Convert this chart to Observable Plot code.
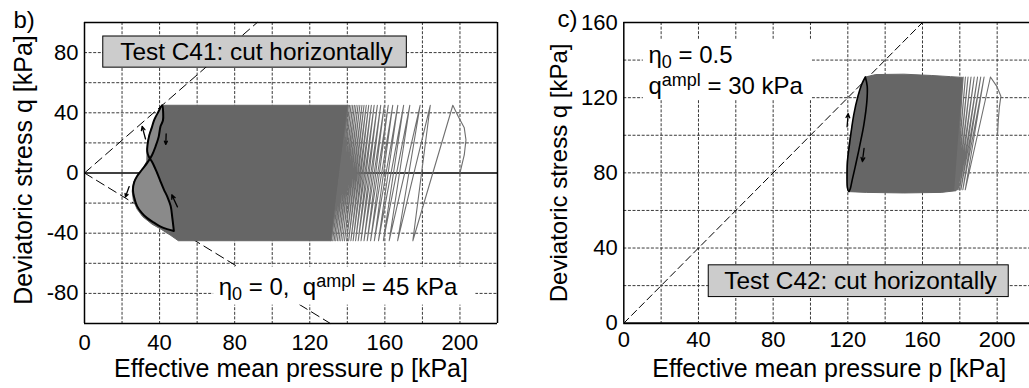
<!DOCTYPE html>
<html><head><meta charset="utf-8">
<script src="https://cdn.jsdelivr.net/npm/d3@7"></script>
<script src="https://cdn.jsdelivr.net/npm/@observablehq/plot@0.6"></script>
<style>
html,body{margin:0;padding:0;background:#fff;overflow:hidden;}
#wrap{position:relative;width:1029px;height:388px;overflow:hidden;background:#fff;}
#wrap svg{position:absolute;top:0;}
svg text{white-space:pre;}
</style></head><body><div id="wrap"></div>
<script>
// ---------- data (p, q in kPa) ----------
const xTicks = [0, 40, 80, 120, 160, 200];
const yTicksB = [-80, -40, 0, 40, 80];
const yTicksC = [0, 40, 80, 120, 160];
const gridPB = [20, 40, 60, 80, 100, 120, 140, 160, 180, 200];
const gridQB = [-80, -60, -40, -20, 20, 40, 60, 80];
const gridPC = [20, 40, 60, 80, 100, 120, 140, 160, 180, 200];
const gridQC = [20, 40, 60, 80, 100, 120, 140];

// critical state lines
const mcLineB = [[0, 0], [92, 100]];
const meLineB = [[0, 0], [131, -100]];
const mcLineC = [[0, 0], [160, 160]];

// Test C41: individually visible cycles (turning points), first cycle at p=200
const strokesB = [[200, 0], [202.3, 12], [203.2, 22], [202.3, 30], [199.1, 37.5], [196.2, 45],
  [174.9, -45], [184.2, 45], [166.8, -45], [178.8, 45], [162.3, -45], [173.3, 45],
  [159.2, -45], [170, 45], [156.6, -45], [166.9, 45], [154.4, -45], [164.2, 45],
  [152.4, -45], [161.8, 45], [150.6, -45], [159.7, 45], [148.9, -45], [157.8, 45],
  [147.3, -45], [156, 45], [145.8, -45], [154.3, 45], [144.4, -45], [152.8, 45],
  [143.1, -45], [151.4, 45], [141.9, -45], [150.1, 45], [140.7, -45], [148.9, 45],
  [139.6, -45], [147.8, 45], [138.5, -45], [146.7, 45], [137.5, -45], [145.7, 45],
  [136.5, -45], [144.7, 45], [135.6, -45], [143.8, 45], [134.7, -45], [142.9, 45],
  [133.8, -45], [142, 45], [133, -45], [141.2, 45], [132.2, -45], [140.4, 45], [131.4, -45]];
// Test C41: envelope of the dense (merged) cycles
const denseB = [[41.4, 45], [140.5, 45], [131.4, -45], [50, -45], [46, -41.5], [41, -37.5],
  [36, -34], [31, -29], [28, -24], [26, -18], [25.4, -12], [26.2, -6], [28.5, -1],
  [31.5, 3.5], [33.2, 8], [33.3, 14], [33.6, 20], [34.6, 26], [36, 31], [37.6, 36],
  [39.5, 40.5], [41.4, 45]];
// Test C41: last cycle (black)
const lastCycleB = [[47.6, -38.5], [46.8, -30], [45.9, -22], [44.2, -16], [42.3, -11],
  [40.3, -5], [38.7, 0], [36.3, 6.7], [34.2, 11], [33.4, 14.4], [33.6, 19], [34.5, 25],
  [35.8, 30], [37.2, 35.5], [39.3, 40.5], [41.4, 45], [41.9, 40], [41.8, 35], [40.5, 31],
  [39.5, 24], [37.9, 17.8], [36, 12], [33.4, 6.7], [30.5, 2], [28, -2.2], [26.5, -6],
  [25.8, -11], [26.4, -16], [28, -22], [30.5, -26.5], [33.4, -30], [37, -33],
  [40.5, -35.6], [44, -37.3], [47.6, -38.5]];
const arrowsB = [[32.5, 22.6, 30.7, 31], [43.5, 26, 43.3, 19], [23.8, -9, 21.8, -16], [49.5, -22.5, 46.5, -14.5]];

// Test C42
const strokesC = [[200.2, 100], [200.6, 108], [201.2, 115], [202, 120.8], [199.8, 126], [196.4, 131],
  [182.9, 71], [193, 131], [181.6, 71], [191.2, 131], [180.6, 71], [189.5, 131],
  [179.8, 71], [187.7, 131], [179.1, 71], [186, 131], [178.5, 71], [184.4, 131],
  [178, 71], [183, 131], [177.6, 71], [181.8, 131], [177.3, 71]];
const denseC = [[129.4, 131], [135, 132.3], [150, 132.5], [165, 131.8], [175, 131.2], [181.5, 130.8],
  [180.5, 115], [179.3, 95], [178.3, 78], [178, 70.5], [170, 69.6], [150, 69.3], [130, 69.6],
  [121, 70], [119.8, 72], [119.5, 78], [119.7, 86], [120.8, 96], [122.5, 106], [124.5, 116],
  [126.8, 124], [128.3, 128.5], [129.4, 131]];
const lastCycleC = [[129.4, 131], [130.4, 126], [130.2, 118], [128.6, 105.7], [126.5, 95],
  [124.2, 84.3], [122.3, 76], [121.4, 71.8], [120.6, 70], [119.8, 72], [119.6, 78],
  [119.8, 86], [121, 96], [123.2, 111], [125.5, 121], [127.6, 127.5], [129.4, 131]];
const arrowsC = [[119.6, 104.5, 120.2, 111.5], [128.7, 93, 127.8, 86]];

// texts
const titleB = "Test C41: cut horizontally";
const titleC = "Test C42: cut horizontally";
const xTitle = "Effective mean pressure p [kPa]";
const yTitle = "Deviatoric stress q [kPa]";
const noteB = [["η", ""], ["0", "sub"], [" = 0,  q", ""], ["ampl", "sup"], [" = 45 kPa", ""]];
const noteC1 = [["η", ""], ["0", "sub"], [" = 0.5", ""]];
const noteC2 = [["q", ""], ["ampl", "sup"], [" = 30 kPa", ""]];
const join = parts => parts.map(p => p[0]).join("");

// ---------- drawing ----------
const FONT = "Liberation Sans, Arial, Helvetica, sans-serif";
const X = d => d[0], Y = d => d[1];
const GRID = {stroke: "#3a3a3a", strokeDasharray: "3,1.6", strokeWidth: 1};
const DENSE = "#666666";
const LINEG = "#6f6f6f";

function rich(svg, specs) {
  const NS = "http://www.w3.org/2000/svg";
  svg.querySelectorAll("text").forEach(t => {
    const spec = specs.find(s => join(s) === t.textContent);
    if (!spec) return;
    t.textContent = "";
    let shift = 0;
    for (const [str, kind] of spec) {
      const ts = document.createElementNS(NS, "tspan");
      const target = kind === "sub" ? 5 : kind === "sup" ? -8 : 0;
      ts.setAttribute("dy", target - shift);
      shift = target;
      if (kind) ts.setAttribute("font-size", 18);
      ts.textContent = str;
      t.appendChild(ts);
    }
  });
}

const plotB = Plot.plot({
  width: 515, height: 388,
  marginLeft: 84, marginRight: 18, marginTop: 22, marginBottom: 65,
  style: {fontFamily: FONT, fontSize: "22px", color: "black", background: "transparent", overflow: "visible"},
  x: {domain: [0, 220], ticks: xTicks, tickSize: 0, tickPadding: 11, label: null, tickFormat: d => String(d)},
  y: {domain: [-100, 100], ticks: yTicksB, tickSize: 0, tickPadding: 6, label: null, tickFormat: d => String(d)},
  marks: [
    Plot.ruleX(gridPB, GRID),
    Plot.ruleY(gridQB, GRID),
    Plot.ruleY([0], {stroke: "black", strokeWidth: 1.3}),
    Plot.line(mcLineB, {x: X, y: Y, stroke: "black", strokeWidth: 1, strokeDasharray: "9,5"}),
    Plot.line(meLineB, {x: X, y: Y, stroke: "black", strokeWidth: 1, strokeDasharray: "9,5"}),
    Plot.line(denseB, {x: X, y: Y, fill: DENSE, stroke: DENSE, strokeWidth: 1}),
    Plot.line(strokesB, {x: X, y: Y, stroke: LINEG, strokeWidth: 1.1}),
    Plot.line(lastCycleB, {x: X, y: Y, fill: "#8a8a8a", stroke: "none", curve: "catmull-rom"}),
    Plot.line(lastCycleB, {x: X, y: Y, stroke: "black", strokeWidth: 2, curve: "catmull-rom"}),
    Plot.arrow(arrowsB, {x1: d => d[0], y1: d => d[1], x2: d => d[2], y2: d => d[3], stroke: "black", strokeWidth: 1.3, headLength: 7, headAngle: 50}),
    Plot.rect([[68.8, 208.5, -62.5, -87.8]], {x1: d => d[0], x2: d => d[1], y1: d => d[2], y2: d => d[3], fill: "white"}),
    Plot.text([join(noteB)], {x: 71.5, y: -81.1, textAnchor: "start", lineAnchor: "bottom", fontSize: 24}),
    Plot.rect([[10, 171.7, 90.7, 70]], {x1: d => d[0], x2: d => d[1], y1: d => d[2], y2: d => d[3], fill: "#cccccc", stroke: "black", strokeWidth: 1}),
    Plot.text([titleB], {x: 91.6, y: 80.3, textAnchor: "middle", lineAnchor: "middle", fontSize: 24.4}),
    Plot.ruleX([0, 220], {stroke: "black", strokeWidth: 1.5}),
    Plot.ruleY([-100, 100], {stroke: "black", strokeWidth: 1.5}),
    Plot.text([xTitle], {frameAnchor: "bottom", dy: 53, textAnchor: "middle", lineAnchor: "bottom", fontSize: 25}),
    Plot.text([yTitle], {frameAnchor: "left", rotate: -90, dx: -53, dy: -3, textAnchor: "middle", lineAnchor: "bottom", fontSize: 25}),
    Plot.text(["b)"], {frameAnchor: "top-left", dx: -71, dy: 5, textAnchor: "start", lineAnchor: "bottom", fontSize: 24})
  ]
});
rich(plotB, [noteB]);
plotB.style.left = "0px";

const plotC = Plot.plot({
  width: 520, height: 388,
  marginLeft: 103.3, marginRight: 6, marginTop: 22, marginBottom: 65.3,
  style: {fontFamily: FONT, fontSize: "22px", color: "black", background: "transparent", overflow: "visible"},
  x: {domain: [0, 220], ticks: xTicks, tickSize: 0, tickPadding: 8, label: null, tickFormat: d => String(d)},
  y: {domain: [0, 160], ticks: yTicksC, tickSize: 0, tickPadding: 6, label: null, tickFormat: d => String(d)},
  marks: [
    Plot.ruleX(gridPC, GRID),
    Plot.ruleY(gridQC, GRID),
    Plot.line(mcLineC, {x: X, y: Y, stroke: "black", strokeWidth: 1, strokeDasharray: "7,4"}),
    Plot.line(denseC, {x: X, y: Y, fill: DENSE, stroke: DENSE, strokeWidth: 1}),
    Plot.line(strokesC, {x: X, y: Y, stroke: LINEG, strokeWidth: 1.1}),
    Plot.line(lastCycleC, {x: X, y: Y, stroke: "black", strokeWidth: 1.6, curve: "catmull-rom"}),
    Plot.arrow(arrowsC, {x1: d => d[0], y1: d => d[1], x2: d => d[2], y2: d => d[3], stroke: "black", strokeWidth: 1.3, headLength: 7, headAngle: 50}),
    Plot.rect([[10.5, 101, 119, 151]], {x1: d => d[0], x2: d => d[1], y1: d => d[2], y2: d => d[3], fill: "white"}),
    Plot.text([join(noteC1)], {x: 13.2, y: 138.6, textAnchor: "start", lineAnchor: "bottom", fontSize: 24}),
    Plot.text([join(noteC2)], {x: 13.2, y: 122, textAnchor: "start", lineAnchor: "bottom", fontSize: 24}),
    Plot.rect([[45.5, 206.2, 30.8, 13.9]], {x1: d => d[0], x2: d => d[1], y1: d => d[2], y2: d => d[3], fill: "#cccccc", stroke: "black", strokeWidth: 1}),
    Plot.text([titleC], {x: 126.8, y: 22.4, textAnchor: "middle", lineAnchor: "middle", fontSize: 24.4}),
    Plot.ruleX([0], {stroke: "black", strokeWidth: 1.5}),
    Plot.ruleY([0], {stroke: "black", strokeWidth: 2}),
    Plot.ruleY([160], {stroke: "black", strokeWidth: 1.5}),
    Plot.text([xTitle], {frameAnchor: "bottom", dy: 53.3, textAnchor: "middle", lineAnchor: "bottom", fontSize: 25}),
    Plot.text([yTitle], {frameAnchor: "left", rotate: -90, dx: -57.3, dy: 0, textAnchor: "middle", lineAnchor: "bottom", fontSize: 24}),
    Plot.text(["c)"], {frameAnchor: "top-left", dx: -66.3, dy: 4, textAnchor: "start", lineAnchor: "bottom", fontSize: 24})
  ]
});
rich(plotC, [noteC1, noteC2]);
plotC.style.left = "520px";

const wrap = document.getElementById("wrap");
wrap.appendChild(plotB);
wrap.appendChild(plotC);
</script></body></html>
